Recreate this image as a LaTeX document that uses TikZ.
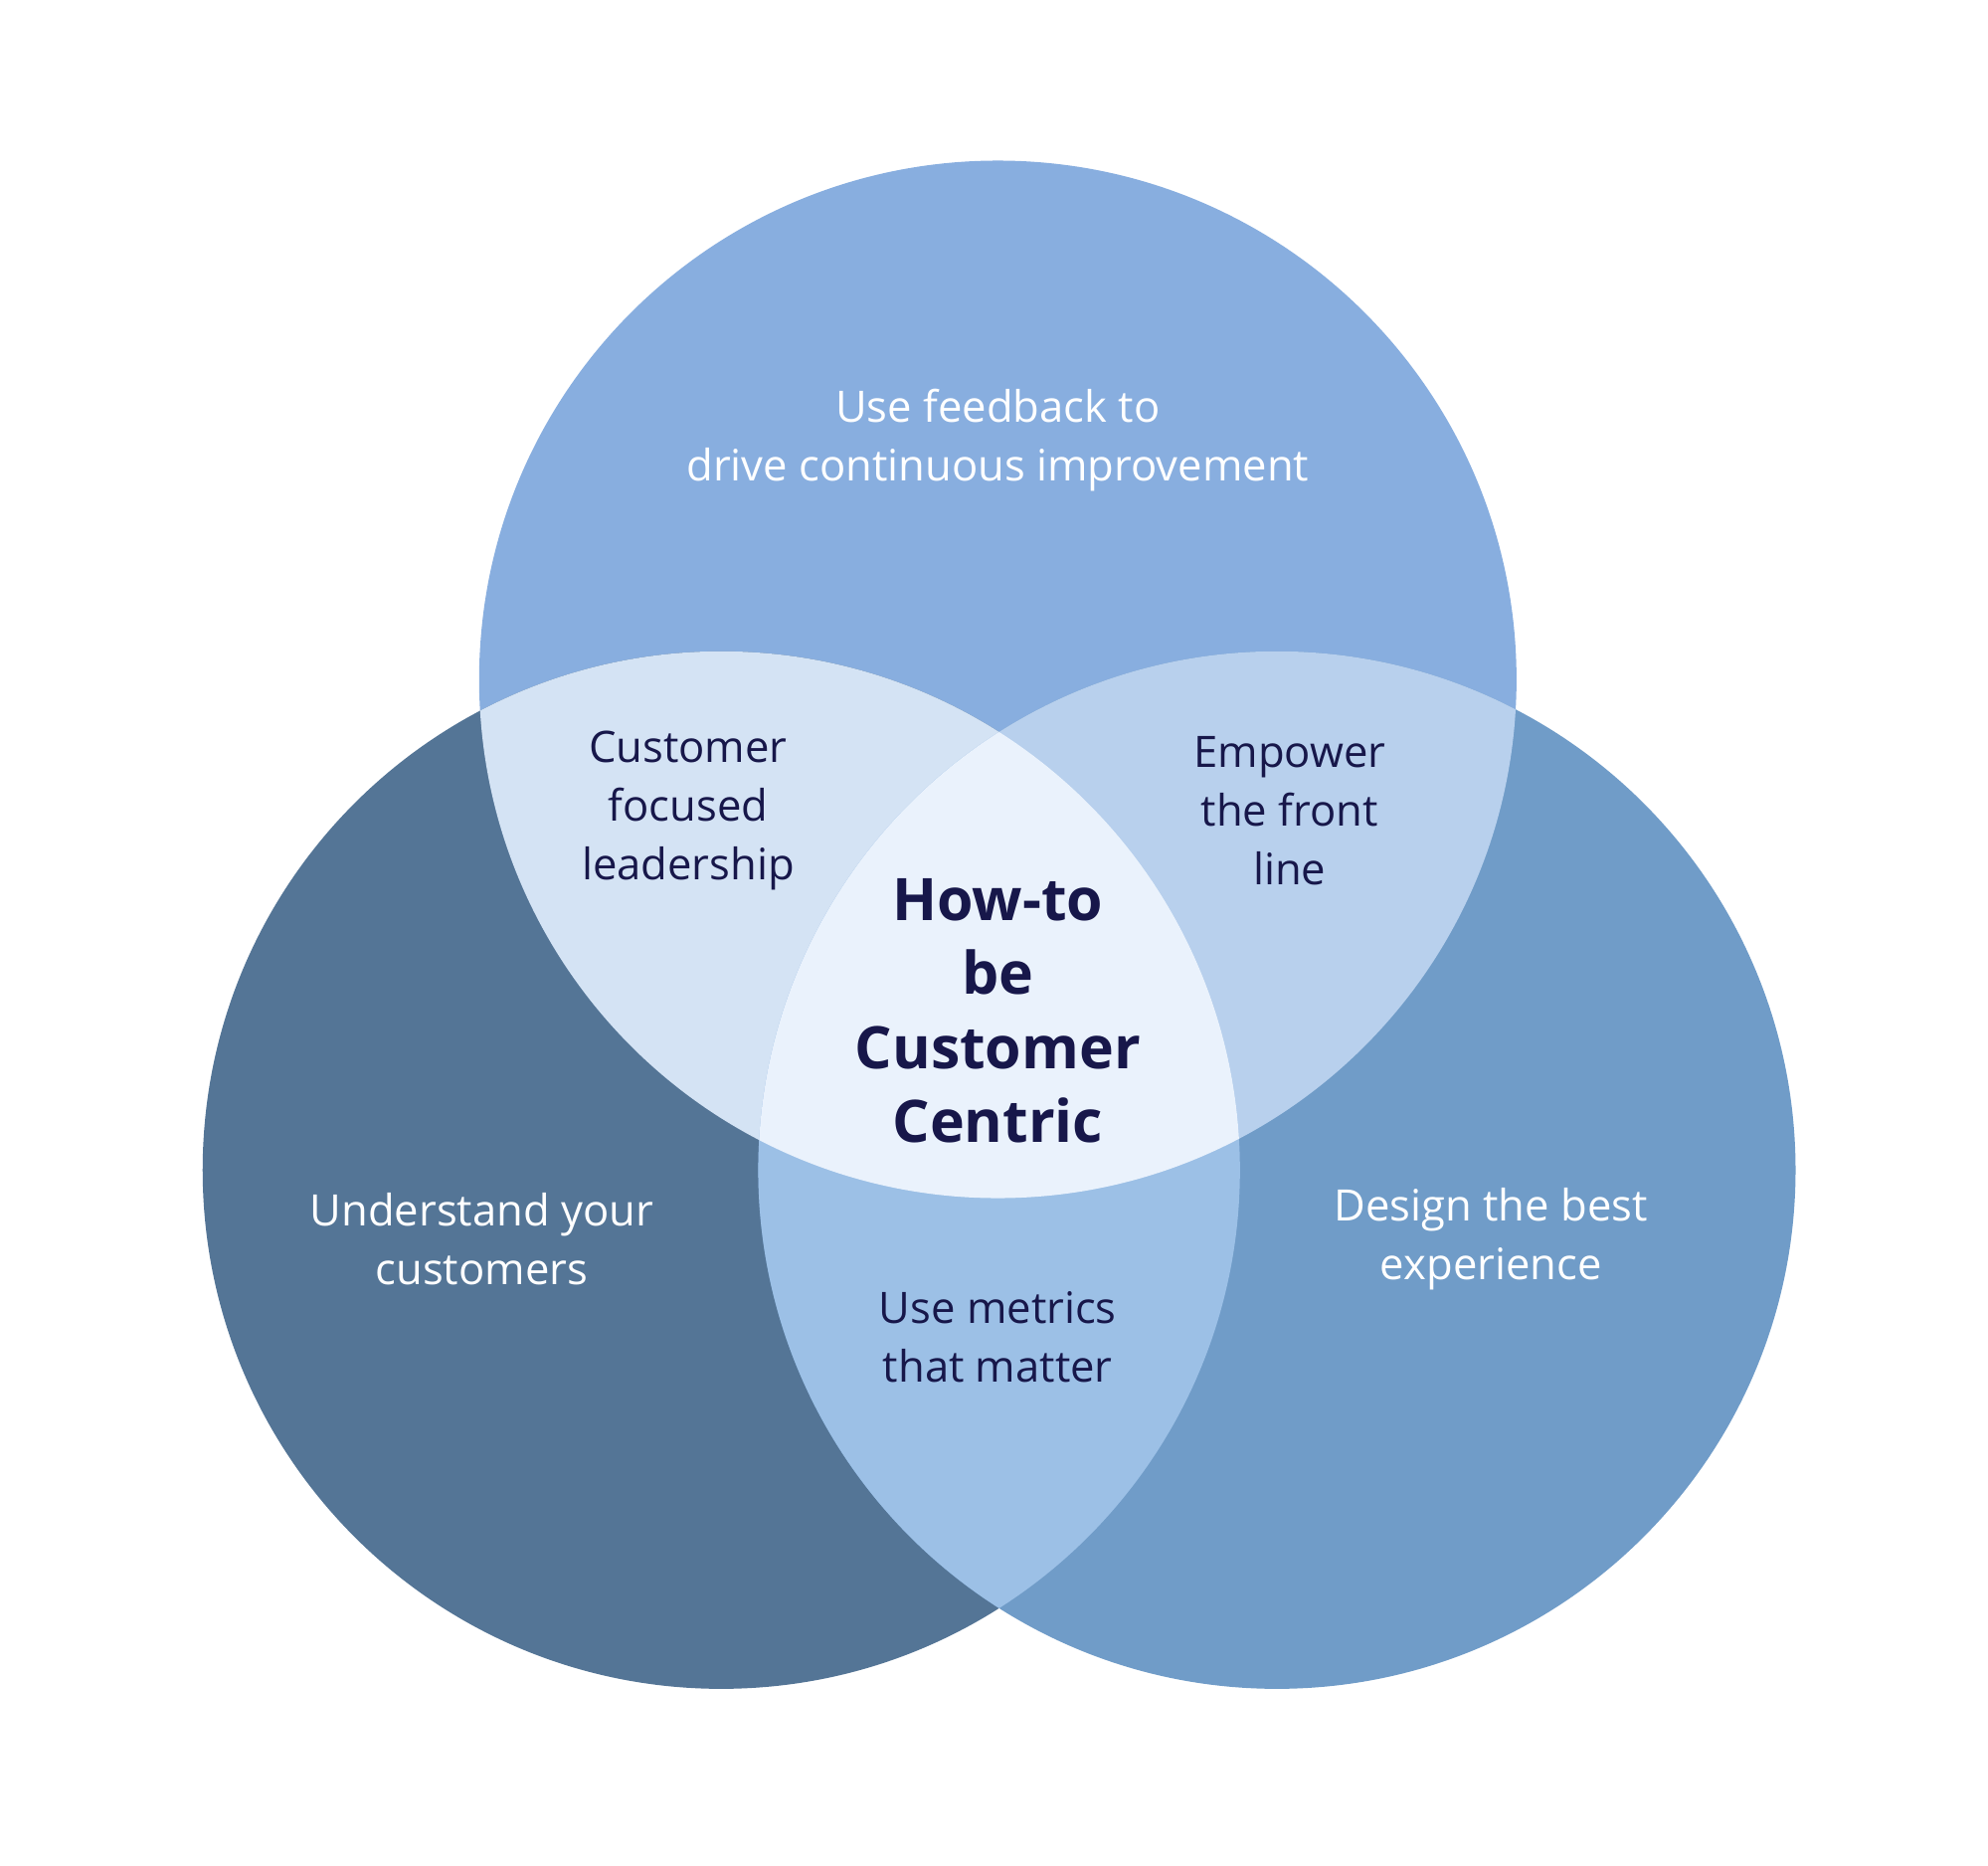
\documentclass[tikz,border=0pt]{standalone}
\usepackage{fontspec}
\setmainfont{Open Sans}
\definecolor{ctop}{HTML}{88AEDF}
\definecolor{cleft}{HTML}{547596}
\definecolor{cright}{HTML}{709CC8}
\definecolor{ctl}{HTML}{D4E3F4}
\definecolor{ctr}{HTML}{B8D0ED}
\definecolor{cbot}{HTML}{9CC0E6}
\definecolor{cmid}{HTML}{EAF2FC}
\definecolor{ink}{HTML}{17174A}
\begin{document}
\begin{tikzpicture}[x=0.5pt,y=-0.5pt,
  lbl/.style={align=center,font=\fontsize{17}{23}\selectfont},
  wl/.style={lbl,text=white},
  dl/.style={lbl,text=ink}]
\useasboundingbox (0,0) rectangle (1560,1464);
\def\T{(783,533) circle (407)}
\def\L{(566,918) circle (407)}
\def\R{(1002,918) circle (407)}
\fill[ctop] \T; \fill[cleft] \L; \fill[cright] \R;
\begin{scope}\clip \T; \fill[ctl] \L; \fill[ctr] \R; \end{scope}
\begin{scope}\clip \L; \fill[cbot] \R; \end{scope}
\begin{scope}\clip \T; \clip \L; \fill[cmid] \R; \end{scope}
\node[wl] (t) at (783,345) {Use feedback to\\drive continuous improvement};
\node[wl] (l) at (378,972) {Understand your\\customers};
\node[wl] (r) at (1170,972) {Design the best\\experience};
\node[dl] (tl) at (540,636) {Customer\\focused\\leadership};
\node[dl] (tr) at (1012,636) {Empower\\the front\\line};
\node[dl] (b) at (783,1049) {Use metrics\\that matter};
\node[align=center,text=ink,font=\bfseries\fontsize{23}{29}\selectfont] (c) at (783,793) {How-to\\be\\Customer\\Centric};
\end{tikzpicture}
\end{document}
